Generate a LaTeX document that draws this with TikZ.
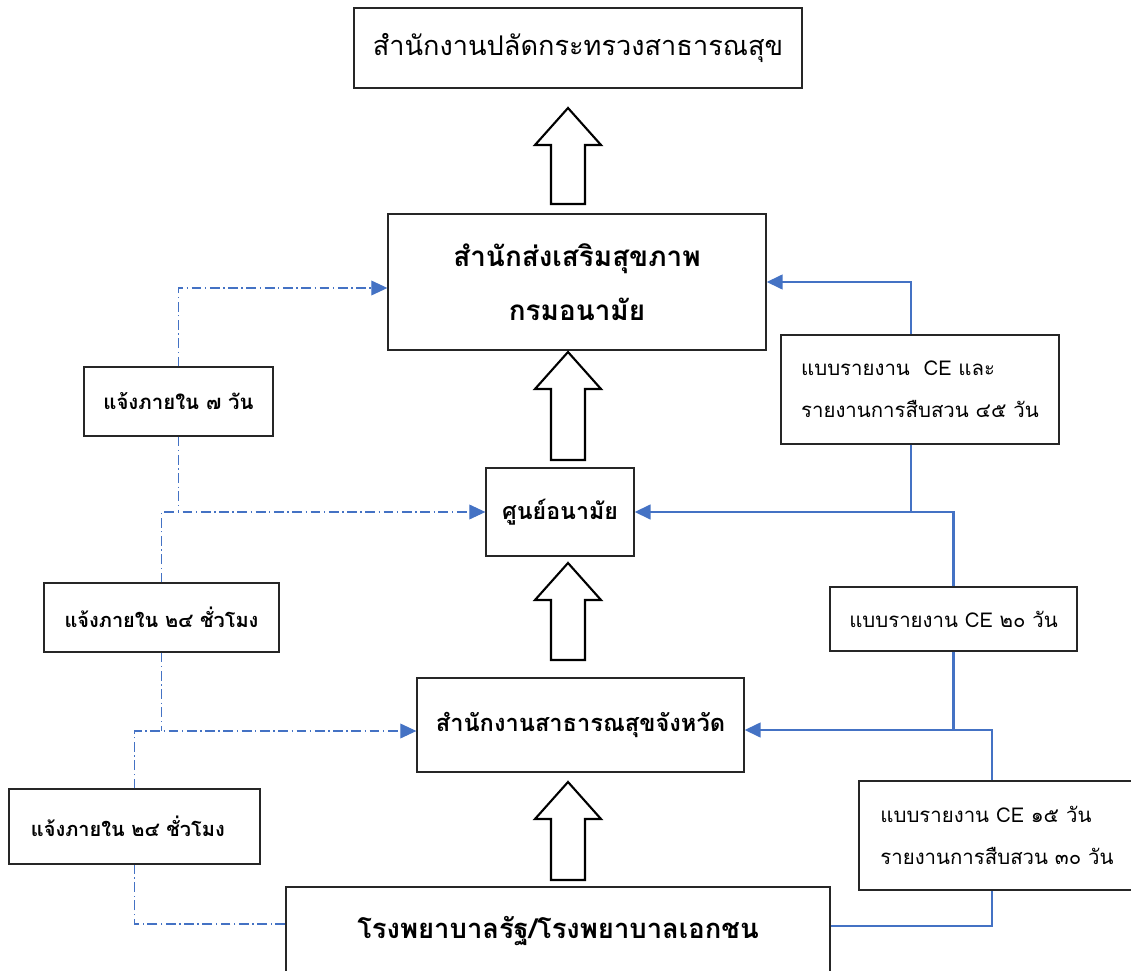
\documentclass[tikz,border=0pt]{standalone}
\usepackage{fontspec}
\setmainfont[Script=Thai]{Loma}
\usetikzlibrary{arrows.meta, calc, positioning}
\definecolor{repblue}{HTML}{4472C4}
\definecolor{boxline}{HTML}{262626}
\tikzset{
  % office box
  office/.style={draw=boxline, line width=0.9pt, fill=white, align=center, inner sep=0pt},
  % side label box
  tagbox/.style={draw=boxline, line width=0.9pt, fill=white, inner sep=0pt,
    font=\fontsize{14.5}{30}\selectfont},
  % notification line (dash dot)
  notify/.style={repblue, line width=0.75pt, dash pattern=on 7pt off 2.5pt on 1pt off 2.5pt},
  % report line
  report/.style={repblue, line width=1.5pt},
  tipblue/.style={-{Triangle[length=4mm, width=3.7mm]}},
  % hollow block arrow
  bigarrow/.style={draw=black, line width=1.5pt, fill=white, line join=miter},
}

\begin{document}
\begin{tikzpicture}[x=0.025cm, y=-0.025cm]
  \newcommand{\hollowup}[3]{%
    \draw[bigarrow] (#1-33,#2+37) -- (#1,#2) -- (#1+33,#2+37) -- (#1+17,#2+37)
      -- (#1+17,#3) -- (#1-17,#3) -- (#1-17,#2+37) -- cycle;}
  \useasboundingbox (0,0) rectangle (1131,971);
  % offices
  \node[office, minimum width=11.2cm, minimum height=2cm, font=\fontsize{19.3}{23}\selectfont] (ops) at (578,48) {สำนักงานปลัดกระทรวงสาธารณสุข};
  \node[office, minimum width=9.45cm, minimum height=3.4cm, font=\bfseries\fontsize{19.8}{38}\selectfont] (hpb) at (577,282) {สำนักส่งเสริมสุขภาพ\\กรมอนามัย};
  \node[office, minimum width=3.7cm, minimum height=2.2cm, font=\bfseries\fontsize{16.5}{20}\selectfont] (hc) at (560,512) {ศูนย์อนามัย};
  \node[office, minimum width=8.175cm, minimum height=2.35cm, font=\bfseries\fontsize{16.8}{20}\selectfont] (ppho) at (580.5,725) {สำนักงานสาธารณสุขจังหวัด};
  \node[office, minimum width=13.6cm, minimum height=2.2cm, font=\bfseries\fontsize{19.5}{23}\selectfont] (hosp) at (558,931) {โรงพยาบาลรัฐ/โรงพยาบาลเอกชน};
  % notification labels
  \node[tagbox, minimum width=4.725cm, minimum height=1.725cm, font=\bfseries\fontsize{14.5}{18}\selectfont] (in7d) at (178.5,401.5) {แจ้งภายใน ๗ วัน};
  \node[tagbox, minimum width=5.875cm, minimum height=1.725cm, font=\bfseries\fontsize{14.2}{18}\selectfont] (in24a) at (161.5,617.5) {แจ้งภายใน ๒๔ ชั่วโมง};
  \node[tagbox, text width=5.175cm, inner xsep=0.55cm, minimum height=1.875cm, align=left, font=\bfseries\fontsize{14.2}{18}\selectfont] (in24b) at (134.5,826.5) {แจ้งภายใน ๒๔ ชั่วโมง};
  % report labels
  \node[tagbox, minimum width=6.95cm, minimum height=2.725cm, align=left] (ce45) at (920,389.5) {แบบรายงาน\ \ CE และ\\รายงานการสืบสวน ๔๕ วัน};
  \node[tagbox, minimum width=6.175cm, minimum height=1.6cm] (ce20) at (953.5,619) {แบบรายงาน CE ๒๐ วัน};
  \node[tagbox, minimum width=6.9cm, minimum height=2.725cm, align=left] (ce15) at (997,835.5) {แบบรายงาน CE ๑๕ วัน\\รายงานการสืบสวน ๓๐ วัน};
  % upward flow
  \hollowup{568}{108}{204}
  \hollowup{568}{352}{460}
  \hollowup{568}{563}{660}
  \hollowup{568}{782}{880}
  % line ends
  \coordinate (hpbL) at ([yshift=-0.15cm]hpb.west);
  \coordinate (pphoL) at ([yshift=-0.15cm]ppho.west);
  \coordinate (pphoR) at ([yshift=-0.125cm]ppho.east);
  \coordinate (hospL) at ([yshift=0.175cm]hosp.west);
  \coordinate (hospR) at ([yshift=0.125cm]hosp.east);
  \coordinate (ce45t) at ([xshift=-0.225cm]ce45.north);
  \coordinate (ce45b) at ([xshift=-0.225cm]ce45.south);
  \coordinate (ce15t) at ([xshift=-0.125cm]ce15.north);
  \coordinate (ce15b) at ([xshift=-0.125cm]ce15.south);
  % notifications
  \draw[notify, tipblue] (in7d.north) |- (hpbL);
  \draw[notify, tipblue] (in24a.north) |- (hc.west);
  \draw[notify] (in7d.south) -- (in7d.south |- hc.west);
  \draw[notify, tipblue] (in24b.north) |- (pphoL);
  \draw[notify] (in24a.south) -- (in24a.south |- pphoL);
  \draw[notify] (hospL) -| (in24b.south);
  % reports
  \draw[report] (hospR) -| (ce15b);
  \draw[report, tipblue] (ce15t) |- (pphoR);
  \draw[report] (ce20.south) -- (ce20.south |- pphoR);
  \draw[report, tipblue] (ce20.north) |- (hc.east);
  \draw[report] (ce45b) -- (ce45b |- hc.east);
  \draw[report, tipblue] (ce45t) |- (hpb.east);
\end{tikzpicture}
\end{document}
